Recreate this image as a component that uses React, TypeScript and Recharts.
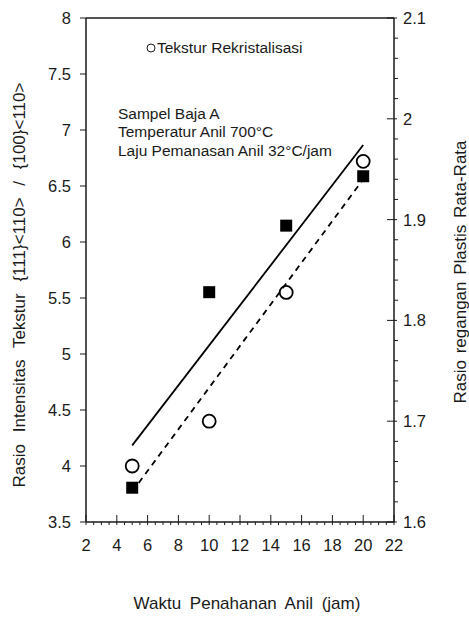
import { ComposedChart, XAxis, YAxis, Scatter, Line, ReferenceLine } from 'recharts';

const hours = [5, 10, 15, 20];
const teksturRatio = [4.0, 4.4, 5.55, 6.72];
const plasticStrain = [1.634, 1.828, 1.894, 1.943];
const fitHours = [5, 20];
const teksturFit = [3.77, 6.56];
const strainFit = [1.676, 1.974];

const xTicks = [2, 2.5, 3, 3.5, 4, 4.5, 5, 5.5, 6, 6.5, 7, 7.5, 8, 8.5, 9, 9.5, 10, 10.5, 11, 11.5, 12, 12.5, 13, 13.5, 14, 14.5, 15, 15.5, 16, 16.5, 17, 17.5, 18, 18.5, 19, 19.5, 20, 20.5, 21, 21.5, 22];
const xMajor = [2, 4, 6, 8, 10, 12, 14, 16, 18, 20, 22];
const leftTicks = [3.5, 4, 4.5, 5, 5.5, 6, 6.5, 7, 7.5, 8];
const rightTicks = [1.6, 1.62, 1.64, 1.66, 1.68, 1.7, 1.72, 1.74, 1.76, 1.78, 1.8, 1.82, 1.84, 1.86, 1.88, 1.9, 1.92, 1.94, 1.96, 1.98, 2, 2.02, 2.04, 2.06, 2.08, 2.1];
const rightMajor = ['1.6', '1.7', '1.8', '1.9', '2', '2.1'];

const teksturData = hours.map((x, i) => ({ x, y: teksturRatio[i] }));
const strainData = hours.map((x, i) => ({ x, y: plasticStrain[i] }));
const teksturFitData = fitHours.map((x, i) => ({ x, y: teksturFit[i] }));
const strainFitData = fitHours.map((x, i) => ({ x, y: strainFit[i] }));

const FONT = '"Liberation Sans", Arial, sans-serif';
const INK = '#1a1a1a';

function XTick(props: any) {
  const { x, y, payload } = props;
  const v = payload.value;
  const major = xMajor.includes(v);
  return (
    <g>
      <line x1={x} x2={x} y1={major ? y - 7 : y} y2={y + 3} stroke={INK} strokeWidth={1} />
      {major && (
        <text x={x} y={y + 29} textAnchor="middle" fontSize={16.5} fontFamily={FONT} fill={INK}>{v}</text>
      )}
    </g>
  );
}

function LeftTick(props: any) {
  const { x, y, payload } = props;
  return (
    <g>
      <line x1={x - 6} x2={x} y1={y} y2={y} stroke={INK} strokeWidth={1} />
      <text x={x - 15} y={y + 6} textAnchor="end" fontSize={16.5} fontFamily={FONT} fill={INK}>{payload.value}</text>
    </g>
  );
}

function RightTick(props: any) {
  const { x, y, payload } = props;
  const label = String(Math.round(payload.value * 100) / 100);
  const major = rightMajor.includes(label);
  return (
    <g>
      <line x1={major ? x - 7 : x} x2={x + (major ? 3 : 4)} y1={y} y2={y} stroke={INK} strokeWidth={1} />
      {major && (
        <text x={x + 9} y={y + 6} textAnchor="start" fontSize={16.5} fontFamily={FONT} fill={INK}>{label}</text>
      )}
    </g>
  );
}

const Square = (props: any) => (
  <rect x={props.cx - 6} y={props.cy - 6} width={12} height={12} fill="#000" />
);
const Circle = (props: any) => (
  <circle cx={props.cx} cy={props.cy} r={6.5} fill="none" stroke="#000" strokeWidth={1.8} />
);

export default function App() {
  return (
    <div style={{ position: 'absolute', left: 0, top: 0, width: 469, height: 617, background: '#fff', fontFamily: FONT }}>
      <ComposedChart width={469} height={617} margin={{ top: 18, right: 0, bottom: 0, left: 0 }}>
        <XAxis
          dataKey="x"
          type="number"
          domain={[2, 22]}
          ticks={xTicks}
          interval={0}
          tick={<XTick />}
          tickLine={false}
          tickSize={0}
          tickMargin={0}
          height={95}
          axisLine={{ stroke: INK, strokeWidth: 1.5 }}
          label={{
            content: () => (
              <text x={247} y={609} textAnchor="middle" fontSize={17} wordSpacing={4} fontFamily={FONT} fill={INK}>Waktu Penahanan Anil (jam)</text>
            ),
          }}
        />
        <YAxis
          yAxisId="left"
          orientation="left"
          type="number"
          domain={[3.5, 8]}
          ticks={leftTicks}
          interval={0}
          tick={<LeftTick />}
          tickLine={false}
          tickSize={0}
          tickMargin={0}
          width={86}
          axisLine={{ stroke: INK, strokeWidth: 1.5 }}
          label={{
            content: () => (
              <text transform="translate(25,285) rotate(-90)" textAnchor="middle" fontSize={17} wordSpacing={7} fontFamily={FONT} fill={INK}>Rasio Intensitas Tekstur {'{111}<110>'} / {'{100}<110>'}</text>
            ),
          }}
        />
        <YAxis
          yAxisId="right"
          orientation="right"
          type="number"
          domain={[1.6, 2.1]}
          ticks={rightTicks}
          interval={0}
          tick={<RightTick />}
          tickLine={false}
          tickSize={0}
          tickMargin={0}
          width={75}
          axisLine={{ stroke: INK, strokeWidth: 1.5 }}
          label={{
            content: () => (
              <text transform="translate(466,272) rotate(-90)" textAnchor="middle" fontSize={17} wordSpacing={2} fontFamily={FONT} fill={INK}>Rasio regangan Plastis Rata-Rata</text>
            ),
          }}
        />
        <ReferenceLine yAxisId="left" y={8} stroke={INK} strokeWidth={1.5} />
        <Line yAxisId="right" data={strainFitData} dataKey="y" type="linear" stroke="#000" strokeWidth={1.8} dot={false} isAnimationActive={false} />
        <Line yAxisId="left" data={teksturFitData} dataKey="y" type="linear" stroke="#000" strokeWidth={1.8} strokeDasharray="6 5" dot={false} isAnimationActive={false} />
        <Scatter yAxisId="left" data={teksturData} dataKey="y" shape={<Circle />} isAnimationActive={false} />
        <Scatter yAxisId="right" data={strainData} dataKey="y" shape={<Square />} isAnimationActive={false} />
      </ComposedChart>
      <svg style={{ position: 'absolute', left: 0, top: 0 }} width={469} height={617} pointerEvents="none">
        <circle cx={151} cy={48} r={4} fill="none" stroke={INK} strokeWidth={1} />
        <text x={157} y={53} fontSize={15.5} fontFamily={FONT} fill={INK}>Tekstur Rekristalisasi</text>
        <text x={118} y={119} fontSize={15.5} fontFamily={FONT} fill={INK}>Sampel Baja A</text>
        <text x={118} y={137} fontSize={15.5} fontFamily={FONT} fill={INK}>Temperatur Anil 700°C</text>
        <text x={118} y={156} fontSize={15.5} fontFamily={FONT} fill={INK}>Laju Pemanasan Anil 32°C/jam</text>
      </svg>
    </div>
  );
}
